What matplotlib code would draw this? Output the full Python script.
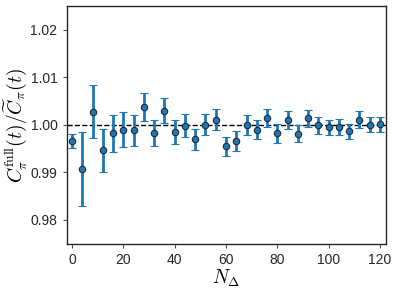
import matplotlib
matplotlib.use("Agg")
import matplotlib.pyplot as plt
import numpy as np

n_delta = np.arange(0, 121, 4)
ratio = [0.99656, 0.99076, 1.00273, 0.99460, 0.99824, 0.99901, 0.99880, 1.00378,
         0.99824, 1.00300, 0.99845, 0.99985, 0.99691, 1.00006, 1.00105, 0.99550,
         0.99664, 0.99992, 0.99901, 1.00139, 0.99817, 1.00111, 0.99811, 1.00139,
         0.99992, 0.99950, 0.99950, 0.99859, 1.00111, 1.00006, 1.00013]
err = [0.0015, 0.0078, 0.0056, 0.0045, 0.0039, 0.0036, 0.0033, 0.0030,
       0.0027, 0.0027, 0.0025, 0.0024, 0.0023, 0.0023, 0.0022, 0.0020,
       0.0021, 0.0021, 0.0020, 0.0019, 0.0019, 0.0019, 0.0018, 0.0018,
       0.0018, 0.0016, 0.0017, 0.0016, 0.0017, 0.0015, 0.0016]

plt.rcParams['font.family'] = ['Liberation Sans', 'DejaVu Sans']
plt.rcParams['mathtext.fontset'] = 'cm'

fig = plt.figure(figsize=(3.99, 2.91), dpi=100)
ax = fig.add_axes([0.1667, 0.16, 0.7995, 0.819])

ax.axhline(1.0, color='black', ls='--', lw=1, zorder=1)
ax.errorbar(n_delta, ratio, yerr=err, fmt='o', color='#1f77b4', ms=4.6,
            mec='#1a2a3a', mew=0.8, elinewidth=2, capsize=3, capthick=2,
            zorder=2)

ax.set_xlim(-2.2, 122.2)
ax.set_ylim(0.9748, 1.0250)
ax.set_xticks([0, 20, 40, 60, 80, 100, 120])
ax.set_yticks([0.98, 0.99, 1.00, 1.01, 1.02])

ax.tick_params(direction='out', length=3, width=0.8, color='#555555',
               labelsize=10, labelcolor='#262626')
for s in ax.spines.values():
    s.set_color('#262626')
    s.set_linewidth(1)

ax.set_xlabel(r'$N_\Delta$', fontsize=14, labelpad=0)
ax.set_ylabel(r'$C_\pi^{\rm full}(t)/\widetilde{C}_\pi(t)$', fontsize=14, labelpad=1)

fig.savefig('out.png', dpi=100)
